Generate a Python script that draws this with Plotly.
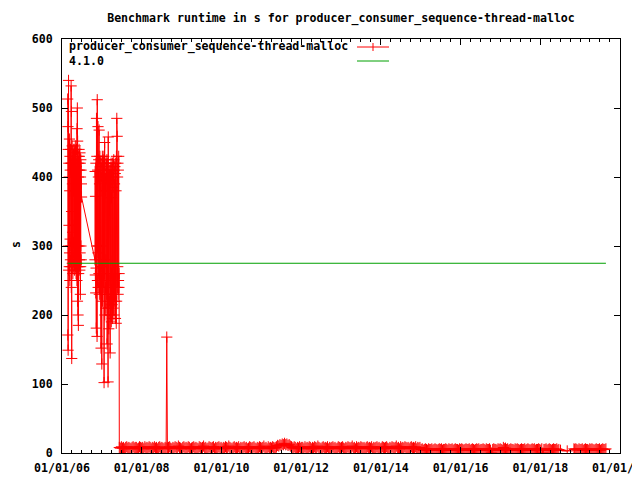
import pandas as pd
import plotly.graph_objects as go

title_text = "Benchmark runtime in s for producer_consumer_sequence-thread-malloc"
series_name = "producer_consumer_sequence-thread-malloc"
ref_name = "4.1.0"
y_title = "s"

x_tick_dates = ["2006-01-01", "2008-01-01", "2010-01-01", "2012-01-01",
                "2014-01-01", "2016-01-01", "2018-01-01", "2020-01-01"]
x_tick_labels = ["01/01/06", "01/01/08", "01/01/10", "01/01/12",
                 "01/01/14", "01/01/16", "01/01/18", "01/01/20"]
y_ticks = [0, 100, 200, 300, 400, 500, 600]

# segments of the measured series: (first date, last date, values)
cluster1_dates = ("2006-02-22", "2006-06-29")
cluster1_vals = [513, 171, 473, 149, 440, 300, 540, 265, 420, 330, 400, 270, 455, 290, 380, 250,
                 430, 310, 410, 280, 440, 300, 420, 270, 532, 240, 495, 350, 137, 420, 300, 445,
                 275, 390, 320, 430, 260, 410, 290, 440, 305, 380, 270, 420, 330, 400, 285, 435,
                 265, 440, 280, 425, 300, 445, 270, 410, 290, 430, 260, 415, 300, 440, 275, 420,
                 250, 470, 300, 500, 220, 452, 270, 410, 200, 430, 185, 400, 260, 420, 300, 440,
                 270, 430, 280, 410, 265, 435, 290, 420, 230, 400, 270, 425, 300, 410, 280, 390,
                 371]

cluster2_dates = ("2006-10-30", "2007-06-08")
cluster2_vals = [280, 408, 258, 372, 232, 420, 268, 181, 485, 300, 430, 169, 512, 250, 410, 290,
                 473, 240, 400, 300, 425, 260, 468, 230, 390, 280, 430, 250, 410, 240, 420, 270,
                 152, 420, 250, 400, 129, 380, 270, 430, 220, 410, 300, 425, 240, 415, 260, 430,
                 102, 395, 260, 450, 200, 420, 280, 380, 240, 405, 210, 420, 230, 400, 250, 425,
                 158, 390, 230, 420, 260, 103, 458, 210, 400, 180, 380, 250, 410, 220, 395, 200,
                 145, 410, 200, 395, 230, 420, 190, 370, 260, 410, 215, 400, 195, 420, 240, 385,
                 210, 400, 230, 425, 200, 410, 250, 390, 220, 415, 240, 405, 195, 420, 260, 380,
                 188, 430, 220, 485, 250, 459, 240, 400, 270, 420, 230, 410, 250, 430, 240, 260]

tail1_dates = ("2007-06-10", "2008-08-12")
tail1_vals = [8, 7, 9, 7, 8, 6, 8, 9, 7, 8, 7, 6, 8, 9, 7, 8, 8, 6, 7, 9, 8, 7, 8, 6, 9, 7, 8,
              7, 9, 8, 6, 8, 7, 9, 7, 8, 6, 8, 9, 7, 8, 7, 6, 8, 7]

spike_dates = ("2008-08-18", "2008-08-18")
spike_vals = [168]

tail2_dates = ("2008-08-24", "2011-05-15")
tail2_vals = [7, 8, 9, 7, 6, 8, 7, 9, 8, 7, 10, 8, 7, 6, 8, 9, 7, 8, 7, 9,
              8, 6, 7, 8, 9, 7, 8, 7, 6, 9, 8, 7, 8, 10, 7, 8, 6, 7, 9, 8,
              7, 8, 9, 6, 8, 7, 8, 9, 7, 8, 6, 8, 7, 9, 8, 7, 10, 8, 7, 6,
              8, 9, 7, 8, 7, 9, 6, 8, 7, 8, 9, 7, 8, 6, 7, 9, 8, 7, 8, 9,
              7, 6, 8, 7, 9, 8, 7, 8, 10, 7, 8, 6, 9, 7, 8, 7, 9, 8, 7, 8]

bump_dates = ("2011-05-20", "2011-10-05")
bump_vals = [9, 11, 10, 12, 11, 13, 12, 14, 12, 13, 11, 12, 10, 9]

tail3_dates = ("2011-10-10", "2014-12-25")
tail3_vals = [8, 7, 9, 8, 6, 8, 7, 9, 7, 8, 8, 6, 9, 7, 8, 7, 9, 8, 6, 8,
              7, 9, 8, 7, 10, 8, 7, 6, 8, 9, 7, 8, 7, 9, 6, 8, 7, 8, 9, 7,
              8, 6, 7, 9, 8, 7, 8, 9, 7, 6, 8, 7, 9, 8, 7, 8, 10, 7, 8, 6,
              9, 7, 8, 7, 9, 8, 7, 8, 6, 8, 9, 7, 8, 7, 9, 6, 8, 7, 8, 9,
              7, 8, 6, 7, 9, 8, 7, 8, 9, 7, 6, 8, 7, 9, 8, 7, 8, 10, 7, 8,
              6, 9, 7, 8, 7, 9, 8, 7, 8, 6, 8, 9, 7, 8, 7, 9, 6, 8, 7, 8]

tail4_dates = ("2015-01-05", "2018-06-20")
tail4_vals = [5, 6, 4, 5, 6, 5, 4, 6, 5, 5, 6, 4, 5, 6, 5, 4, 5, 6, 5, 6,
              4, 5, 5, 6, 5, 4, 6, 5, 5, 6, 4, 5, 6, 5, 5, 4, 6, 5, 6, 5,
              4, 5, 6, 5, 5, 6, 4, 5, 6, 5, 4, 5, 6, 5, 6, 4, 5, 5, 6, 5,
              4, 6, 5, 5, 6, 4, 0, 5, 6, 5, 5, 4, 6, 5, 6, 5, 4, 8, 6, 7,
              5, 6, 4, 5, 6, 5, 5, 4, 6, 5, 6, 5, 4, 5, 6, 5, 5, 6, 4, 5,
              6, 5, 4, 5, 6, 5, 6, 4, 5, 5, 6, 5, 4, 6, 0, 5, 5, 6, 4, 5,
              6, 5, 4, 5, 6, 5, 5, 6, 4, 5]

gap_dates = ("2018-07-05", "2018-11-05")
gap_vals = [4, 3, 6]

tail5_dates = ("2018-11-12", "2019-08-25")
tail5_vals = [5, 6, 5, 4, 6, 5, 5, 6, 4, 5, 6, 5, 5, 4, 6, 5, 6, 5, 4, 5,
              6, 5, 5, 6, 4, 5, 6, 5, 5, 6]

ref_dates = ["2006-02-22", "2019-08-25"]
ref_vals = [275, 275]

segments = [(cluster1_dates, cluster1_vals), (cluster2_dates, cluster2_vals),
            (tail1_dates, tail1_vals), (spike_dates, spike_vals),
            (tail2_dates, tail2_vals), (bump_dates, bump_vals),
            (tail3_dates, tail3_vals), (tail4_dates, tail4_vals),
            (gap_dates, gap_vals), (tail5_dates, tail5_vals)]

xs, ys = [], []
for (d0, d1), vals in segments:
    if len(vals) == 1:
        dates = [pd.Timestamp(d0)]
    else:
        dates = list(pd.date_range(d0, d1, periods=len(vals)))
    xs.extend(dates)
    ys.extend(vals)

RED = "#ff0000"
GREEN = "#00a000"
FONT = dict(family="DejaVu Sans Mono", size=11.6, color="black", weight="bold")

fig = go.Figure()
fig.add_trace(go.Scatter(
    x=xs, y=ys, mode="lines+markers", name=series_name,
    line=dict(color=RED, width=1),
    marker=dict(symbol="cross-thin", size=8, color=RED, line=dict(color=RED, width=1)),
))
fig.add_trace(go.Scatter(
    x=pd.to_datetime(ref_dates), y=ref_vals, mode="lines", name=ref_name,
    line=dict(color=GREEN, width=1),
))

# page offset of the plot div (default body margin)
OFF = 8
# plot area in page pixels
PL, PR, PT, PB = 62, 620, 39, 453
W, H = 640, 480
L = PL - OFF
T = PT - OFF
pw, ph = PR - PL, PB - PT
R = W - L - pw
B = H - T - ph


def px_x(p):
    return (p - PL) / pw


def px_y(p):
    return (PB - p) / ph


fig.update_layout(
    width=W, height=H,
    margin=dict(l=L, r=R, t=T, b=B, autoexpand=False),
    paper_bgcolor="white", plot_bgcolor="white",
    showlegend=False,
    font=FONT,
    title=dict(text=title_text, x=px_x(341), xref="paper", xanchor="center",
               y=1 - (18 - OFF) / H, yref="container", yanchor="middle", font=FONT),
)
fig.update_xaxes(
    type="date", range=["2006-01-01", "2020-01-01"],
    tickvals=pd.to_datetime(x_tick_dates), ticktext=x_tick_labels,
    ticks="inside", ticklen=6, tickcolor="black", tickwidth=1,
    showline=True, linecolor="black", linewidth=1, mirror="allticks",
    showgrid=False, zeroline=False, tickfont=FONT, ticklabelstandoff=4,
    minor=dict(dtick="M3", tick0="2006-01-01", ticks="inside", ticklen=3,
               tickcolor="black", showgrid=False),
)
fig.update_yaxes(
    range=[0, 600], tickvals=y_ticks,
    ticks="inside", ticklen=6, tickcolor="black", tickwidth=1,
    showline=True, linecolor="black", linewidth=1, mirror="allticks",
    showgrid=False, zeroline=False, tickfont=FONT, ticklabelstandoff=6,
)

# y-axis label
fig.add_annotation(text=y_title, xref="paper", yref="paper", x=px_x(16), y=px_y(245),
                   textangle=-90, showarrow=False, font=FONT, borderpad=0,
                   xanchor="center", yanchor="middle")

# legend (text left, sample right, like the original)
fig.add_annotation(text=series_name, xref="paper", yref="paper", x=px_x(67), y=px_y(47),
                   showarrow=False, font=FONT, xanchor="left", yanchor="middle")
fig.add_annotation(text=ref_name, xref="paper", yref="paper", x=px_x(67), y=px_y(61),
                   showarrow=False, font=FONT, xanchor="left", yanchor="middle")
fig.add_shape(type="line", xref="paper", yref="paper", x0=px_x(357), x1=px_x(389),
              y0=px_y(47), y1=px_y(47), line=dict(color=RED, width=1))
fig.add_shape(type="line", xref="paper", yref="paper", x0=px_x(373), x1=px_x(373),
              y0=px_y(43), y1=px_y(51), line=dict(color=RED, width=1))
fig.add_shape(type="line", xref="paper", yref="paper", x0=px_x(357), x1=px_x(389),
              y0=px_y(61), y1=px_y(61), line=dict(color=GREEN, width=1))

fig.write_html("out.html")
